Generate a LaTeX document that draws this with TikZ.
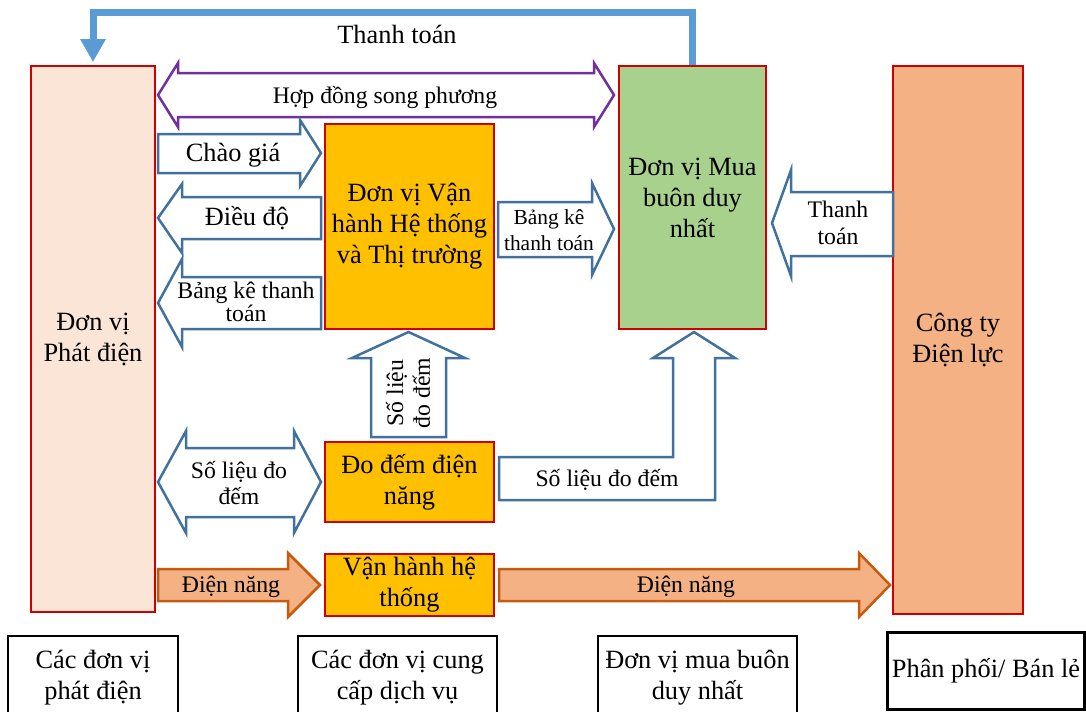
\documentclass[tikz,border=0pt]{standalone}
\usepackage{fontspec}
\setmainfont{Liberation Serif}
\usetikzlibrary{arrows.meta}

\definecolor{boxred}{HTML}{D00000}
\definecolor{genfill}{HTML}{FBE5D6}
\definecolor{buyfill}{HTML}{A9D18E}
\definecolor{pcfill}{HTML}{F4B183}
\definecolor{opfill}{HTML}{FFC000}
\definecolor{flowblue}{HTML}{41719C}
\definecolor{payblue}{HTML}{5B9BD5}
\definecolor{contractpurple}{HTML}{7030A0}
\definecolor{powerbrown}{HTML}{C55A11}

\newcommand\bigtxt{\fontsize{15}{17.6}\selectfont}
\newcommand\midtxt{\fontsize{13.5}{15.3}\selectfont}
\newcommand\tighttxt{\fontsize{13.5}{13}\selectfont}
\newcommand\smalltxt{\fontsize{12.2}{14.8}\selectfont}

\tikzset{
  box/.style={draw=boxred, line width=0.04cm, inner sep=0pt, align=center, font=\bigtxt},
  legendbox/.style={draw=black, line width=0.04cm, inner sep=0pt, align=center, font=\bigtxt},
  flow/.style={draw=flowblue, line width=0.05cm, fill=white},
  power/.style={draw=powerbrown, line width=0.05cm, fill=pcfill},
  lbl/.style={align=center, inner sep=0pt, font=\midtxt},
}

\begin{document}
\begin{tikzpicture}[x=0.02cm, y=-0.02cm]
    \useasboundingbox (0,0) rectangle (1086,711);

    % Main units
    \node[box, fill=genfill, minimum width=2.48cm, minimum height=10.92cm] (gen) at (93,339) {Đơn vị\\Phát điện};
    \node[box, fill=buyfill, minimum width=2.94cm, minimum height=5.26cm] (sb) at (692.5,197.5) {Đơn vị Mua\\buôn duy\\nhất};
    \node[box, fill=pcfill, minimum width=2.6cm, minimum height=10.96cm] (pc) at (958,340) {Công ty\\Điện lực};
    \node[box, fill=opfill, minimum width=3.38cm, minimum height=4.1cm] (mo) at (409.5,226.5) {Đơn vị Vận\\hành Hệ thống\\và Thị trường};
    \node[box, fill=opfill, minimum width=3.38cm, minimum height=1.6cm] (meter) at (409.5,482) {Đo đếm điện\\năng};
    \node[box, fill=opfill, minimum width=3.38cm, minimum height=1.24cm] (sysop) at (409.5,585) {Vận hành hệ\\thống};

    % Payment line on top
    \draw[payblue, line width=0.14cm, -{Triangle[length=0.46cm, width=0.48cm]}, shorten >=0.06cm]
        (sb.north) -- ++(0,-53) -| (gen.north);
    \node[inner sep=0pt, font=\bigtxt] (paytop) at (397,34) {Thanh toán};

    % Contract
    \draw[draw=contractpurple, line width=0.05cm, fill=white]
        (158,95) -- (178,63) -- (178,73) -- (594,73) -- (594,63) -- (614,95)
        -- (594,127) -- (594,117) -- (178,117) -- (178,127) -- cycle;
    \node[lbl] (contract) at (385,97) {Hợp đồng song phương};

    % Market operator arrows
    \draw[flow] (158,134) -- (300,134) -- (300,120) -- (321,153) -- (300,186) -- (300,173) -- (158,173) -- cycle;
    \node[lbl, font=\bigtxt] (offer) at (233,155) {Chào giá};

    \draw[flow] (321,197) -- (182,197) -- (182,184) -- (158,218) -- (182,253) -- (182,239) -- (321,239) -- cycle;
    \node[lbl, font=\bigtxt] (dispatch) at (247,218) {Điều độ};

    \draw[flow] (321,277) -- (182,277) -- (182,259) -- (158,303) -- (182,347) -- (182,329) -- (321,329) -- cycle;
    \node[lbl, font=\tighttxt] (billgen) at (246,302) {Bảng kê thanh\\toán};

    \draw[flow] (498,202) -- (592,202) -- (592,183) -- (614,229) -- (592,275) -- (592,257) -- (498,257) -- cycle;
    \node[lbl, font=\smalltxt] (billsb) at (549,230) {Bảng kê\\thanh toán};

    \draw[flow] (893,192) -- (791,192) -- (791,170) -- (772,223) -- (791,276) -- (791,256) -- (893,256) -- cycle;
    \node[lbl] (paypc) at (838,223) {Thanh\\toán};

    % Metering
    \draw[flow] (371,437) -- (371,358) -- (352,358) -- (408.5,332) -- (465,358) -- (446,358) -- (446,437) -- cycle;
    \node[lbl, rotate=90] (meterup) at (408,393) {Số liệu\\đo đếm};

    \draw[flow] (158,482) -- (186,431) -- (186,448) -- (294,448) -- (294,431) -- (321,482)
        -- (294,533) -- (294,517) -- (186,517) -- (186,533) -- cycle;
    \node[lbl] (metergen) at (239,483) {Số liệu đo\\đếm};

    \draw[flow] (499,457) -- (673,457) -- (673,358) -- (653,358) -- (694,332) -- (735,358)
        -- (715,358) -- (715,500) -- (499,500) -- cycle;
    \node[lbl] (metersb) at (607,480) {Số liệu đo đếm};

    % Energy flow
    \draw[power] (158,569) -- (288,569) -- (288,553) -- (320,585) -- (288,617) -- (288,601) -- (158,601) -- cycle;
    \node[lbl] (energy1) at (231,587) {Điện năng};
    \draw[power] (499,569) -- (859,569) -- (859,553) -- (890,585) -- (859,617) -- (859,601) -- (499,601) -- cycle;
    \node[lbl] (energy2) at (686,587) {Điện năng};

    % Legend
    \node[legendbox, minimum width=3.4cm, minimum height=1.68cm] (lgen) at (93,678) {Các đơn vị\\phát điện};
    \node[legendbox, minimum width=3.98cm, minimum height=1.68cm] (lserv) at (397.5,678) {Các đơn vị cung\\cấp dịch vụ};
    \node[legendbox, minimum width=3.98cm, minimum height=1.68cm] (lbuy) at (697.5,678) {Đơn vị mua buôn\\duy nhất};
    \node[legendbox, line width=0.06cm, minimum width=3.94cm, minimum height=1.54cm] (lret) at (986,670.5) {Phân phối/ Bán lẻ};
\end{tikzpicture}
\end{document}
